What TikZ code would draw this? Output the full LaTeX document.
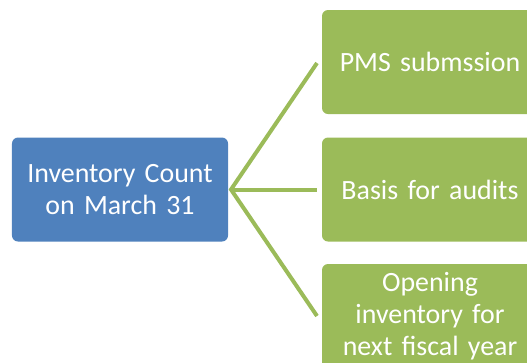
\documentclass[tikz,border=0pt]{standalone}
\usepackage{fontspec}
\setmainfont{Carlito}
\definecolor{boxblue}{HTML}{4F81BD}
\definecolor{boxgreen}{HTML}{9BBB59}
\newcommand\cardfont{\fontsize{28}{32}\selectfont\spaceskip 0.2em\relax}
\begin{document}
\begin{tikzpicture}[x=1bp,y=-1bp,
  card/.style={rounded corners=6bp, minimum width=216bp, minimum height=104bp,
    text width=210bp, align=center, text=white, inner sep=0pt,
    font=\cardfont},
  rootcard/.style={card, fill=boxblue},
  leafcard/.style={card, fill=boxgreen},
  link/.style={draw=boxgreen, line width=4bp}]
\useasboundingbox (0,0) rectangle (527,362);
\node[rootcard] (root) at (120,189.5) {Inventory Count\\on March 31};
\node[leafcard] (pms) at (430,62) {PMS submssion};
\node[leafcard] (audit) at (430,189.5) {Basis for audits};
\node[leafcard] (open) at (430,316) {Opening\\inventory for\\next fiscal year};
\coordinate (hub) at (231,189.5);
\coordinate (pmsin) at (317,63);
\coordinate (auditin) at (317,189.5);
\coordinate (openin) at (317,316);
\draw[link] (pmsin) -- (hub) -- (openin);
\draw[link] (hub) -- (auditin);
\end{tikzpicture}
\end{document}
